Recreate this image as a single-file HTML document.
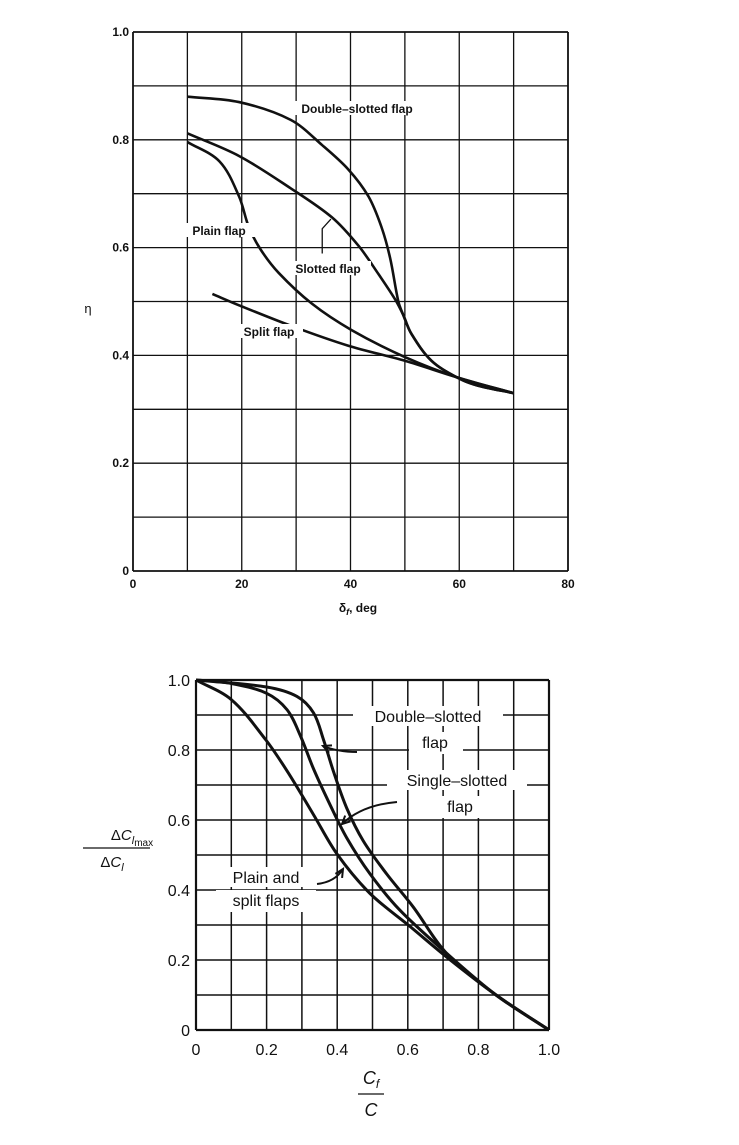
<!DOCTYPE html>
<html><head><meta charset="utf-8"><style>
body{margin:0;background:#fff}
svg{display:block;font-family:"Liberation Sans",Arial,sans-serif}
</style></head><body>
<svg id="s" width="739" height="1145" viewBox="0 0 739 1145"></svg>
<script>
// ---- Top chart data (deflection deg, eta)
const topXTicks=[0,20,40,60,80];
const topYTicks=[0,0.2,0.4,0.6,0.8,1.0];
const dblX=[10,19.5,29,34.8,39.6,43.3,45.7,47.3,48.8,49.7,51.2,54.9,59.8,63.4,70];
const dblY=[0.88,0.87,0.837,0.79,0.745,0.695,0.638,0.58,0.50,0.475,0.44,0.39,0.358,0.344,0.33];
const sltX=[10,19.5,29,36.6,41.5,45,48.2,49.7,51.2,54.9,59.8,63.4,70];
const sltY=[0.812,0.77,0.71,0.656,0.603,0.553,0.504,0.475,0.44,0.39,0.358,0.344,0.33];
const plnX=[10,15.9,19.5,21.3,23.5,26.8,32.9,40.2,50,60,70];
const plnY=[0.796,0.76,0.695,0.638,0.596,0.553,0.496,0.447,0.397,0.358,0.33];
const splX=[14.6,19.5,29.3,39.6,50,60,70];
const splY=[0.514,0.493,0.454,0.418,0.39,0.358,0.33];
// ---- Bottom chart data (cf/c, ratio)
const botTicks=[0,0.2,0.4,0.6,0.8,1.0];
const bPlX=[0,0.1,0.197,0.26,0.333,0.4,0.493,0.606,0.718,0.85,1];
const bPlY=[1,0.944,0.83,0.737,0.615,0.502,0.39,0.296,0.202,0.1,0];
const bSsX=[0,0.1,0.2,0.258,0.296,0.333,0.38,0.427,0.493,0.577,0.709,0.85,1];
const bSsY=[1,0.99,0.962,0.915,0.84,0.746,0.643,0.549,0.446,0.343,0.22,0.1,0];
const bDsX=[0,0.2,0.286,0.333,0.361,0.39,0.427,0.474,0.54,0.615,0.709,0.85,1];
const bDsY=[1,0.98,0.953,0.906,0.83,0.737,0.634,0.54,0.446,0.352,0.22,0.1,0];

const S=document.getElementById('s');const NS='http://www.w3.org/2000/svg';
function el(t,a,p){const e=document.createElementNS(NS,t);for(const k in a)e.setAttribute(k,a[k]);(p||S).appendChild(e);return e;}
function smooth(pts){
  const n=pts.length,T=[];
  for(let i=0;i<n;i++){const a=pts[Math.max(i-1,0)],b=pts[Math.min(i+1,n-1)];let dx=b[0]-a[0],dy=b[1]-a[1];const m=Math.hypot(dx,dy)||1;T.push([dx/m,dy/m]);}
  let d='M'+pts[0][0]+','+pts[0][1];
  for(let i=0;i<n-1;i++){const p1=pts[i],p2=pts[i+1];const L=Math.hypot(p2[0]-p1[0],p2[1]-p1[1])/3;
    d+=' C'+(p1[0]+T[i][0]*L)+','+(p1[1]+T[i][1]*L)+' '+(p2[0]-T[i+1][0]*L)+','+(p2[1]-T[i+1][1]*L)+' '+p2[0]+','+p2[1];}
  return d;}
function txt(x,y,s,sz,w,anc,name){const t=el('text',{x:x,y:y,'font-size':sz,'font-weight':w,'text-anchor':anc||'middle',fill:'#111'});t.textContent=s;

return t;}

// ---- TOP
const tx=v=>133+v*(435/80), ty=v=>571-v*539;
for(let d=0;d<=80;d+=10){const l=el('line',{x1:tx(d),y1:ty(0),x2:tx(d),y2:ty(1),stroke:'#111','stroke-width':d==0||d==80?1.8:1.3});

}
for(let v=0;v<=10;v++){const l=el('line',{x1:tx(0),y1:ty(v/10),x2:tx(80),y2:ty(v/10),stroke:'#111','stroke-width':v==0||v==10?1.8:1.3});

}
topXTicks.forEach(v=>txt(tx(v),588,String(v),12,'bold','middle','top-x-tick'));
topYTicks.forEach(v=>txt(tx(0)-4,ty(v)+4,v==0?'0':v.toFixed(1),12,'bold','end','top-y-tick'));
function tcurve(X,Y,name){const p=el('path',{d:smooth(X.map((x,i)=>[tx(x),ty(Y[i])])),fill:'none',stroke:'#111','stroke-width':2.6});

}
tcurve(dblX,dblY,'double-slotted-curve');tcurve(sltX,sltY,'slotted-curve');tcurve(plnX,plnY,'plain-curve');tcurve(splX,splY,'split-curve');
function bg(x,y,w,h){const r=el('rect',{x:x,y:y,width:w,height:h,fill:'#fff'});}
bg(284,101,146,14);txt(357,113,'Double\u2013slotted flap',12,'bold','middle','double-slotted-label');
bg(179,223,80,14);txt(219,235,'Plain flap',12,'bold','middle','plain-flap-label');
bg(285,261,86,14);txt(328,273,'Slotted flap',12,'bold','middle','slotted-flap-label');
bg(235,324,68,14);txt(269,336,'Split flap',12,'bold','middle','split-flap-label');
const ld=el('path',{d:'M'+tx(34.8)+','+ty(0.589)+' L'+tx(34.8)+','+ty(0.635)+' L'+tx(36.4)+','+ty(0.653),fill:'none',stroke:'#111','stroke-width':1.3});

txt(88,313,'\u03b7',13,'normal','middle','top-y-title');
const xt=txt(358,612,'',12,'bold','middle','top-x-title');xt.innerHTML='\u03b4<tspan font-size="9" dy="3" font-style="italic">f</tspan><tspan dy="-3">, deg</tspan>';

// ---- BOTTOM
const bx=v=>196+v*353, by=v=>1030-v*350;
for(let v=0;v<=10;v++){const l=el('line',{x1:bx(v/10),y1:by(0),x2:bx(v/10),y2:by(1),stroke:'#111','stroke-width':v==0||v==10?2.2:1.5});


const h=el('line',{x1:bx(0),y1:by(v/10),x2:bx(1),y2:by(v/10),stroke:'#111','stroke-width':v==0||v==10?2.2:1.5});

}
botTicks.forEach(v=>{txt(bx(v),1055,v==0?'0':v.toFixed(1),16,'normal','middle','bottom-x-tick');txt(bx(0)-6,by(v)+6,v==0?'0':v.toFixed(1),16,'normal','end','bottom-y-tick');});
function bcurve(X,Y,name){const p=el('path',{d:smooth(X.map((x,i)=>[bx(x),by(Y[i])])),fill:'none',stroke:'#111','stroke-width':3});

}
bcurve(bPlX,bPlY,'plain-split-curve');bcurve(bSsX,bSsY,'single-slotted-curve');bcurve(bDsX,bDsY,'double-slotted-curve-bottom');
bg(353,706,150,20);txt(428,722,'Double\u2013slotted',16,'normal','middle','double-slotted-label-bottom');
bg(409,732,54,22);txt(435,748,'flap',16,'normal','middle','double-flap-label');
bg(387,770,140,20);txt(457,786,'Single\u2013slotted',16,'normal','middle','single-slotted-label');
bg(435,796,50,22);txt(460,812,'flap',16,'normal','middle','single-flap-label');
bg(216,867,100,20);txt(266,883,'Plain and',16,'normal','middle','plain-split-label-1');
bg(216,890,100,22);txt(266,906,'split flaps',16,'normal','middle','plain-split-label-2');
function arrow(x1,y1,cx,cy,x2,y2,name){const p=el('path',{d:`M${x1},${y1} Q${cx},${cy} ${x2},${y2}`,fill:'none',stroke:'#111','stroke-width':2});

const a=Math.atan2(y2-cy,x2-cx),L=9;const h=el('path',{d:`M${x2-L*Math.cos(a-0.45)},${y2-L*Math.sin(a-0.45)} L${x2},${y2} L${x2-L*Math.cos(a+0.45)},${y2-L*Math.sin(a+0.45)}`,fill:'none',stroke:'#111','stroke-width':2});
}
arrow(357,752,338,752,323,746,'double-arrow');
arrow(397,802,362,805,342,824,'single-arrow');
arrow(317,884,335,882,343,869,'plain-arrow');
const yl=txt(132,840,'',15,'normal','middle','bottom-y-title-num');yl.innerHTML='\u0394<tspan font-style="italic">C</tspan><tspan font-style="italic" font-size="11" dy="4">l</tspan><tspan font-size="10" dy="2">max</tspan>';
const fl=el('line',{x1:83,y1:848,x2:150,y2:848,stroke:'#111','stroke-width':1.2});
const yd=txt(112,867,'',15,'normal','middle','bottom-y-title-den');yd.innerHTML='\u0394<tspan font-style="italic">C</tspan><tspan font-style="italic" font-size="11" dy="4">l</tspan>';
const xn=txt(371,1084,'',18,'normal','middle','bottom-x-title-num');xn.innerHTML='<tspan font-style="italic">C</tspan><tspan font-style="italic" font-size="12" dy="4">f</tspan>';
const xb=el('line',{x1:358,y1:1094,x2:384,y2:1094,stroke:'#111','stroke-width':1.2});
txt(371,1116,'C',18,'normal','middle','bottom-x-title-den').setAttribute('font-style','italic');
</script>
</body></html>
